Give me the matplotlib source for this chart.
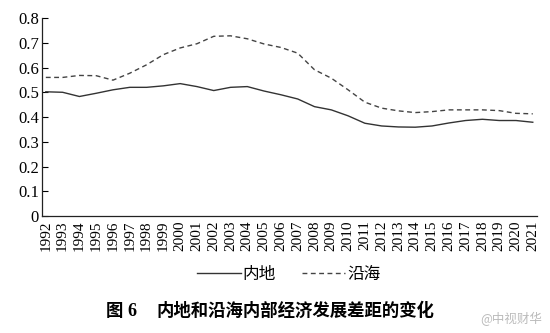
import numpy as np
import matplotlib.pyplot as plt

plt.rcParams['font.family'] = ['Liberation Serif', 'Noto Sans CJK SC']

years = list(range(1992, 2022))
inland = [0.502, 0.500, 0.483, 0.496, 0.510, 0.520, 0.520, 0.526, 0.535, 0.523,
          0.507, 0.520, 0.523, 0.505, 0.490, 0.473, 0.442, 0.429, 0.405, 0.375,
          0.364, 0.360, 0.359, 0.364, 0.376, 0.386, 0.391, 0.386, 0.386, 0.379]
coastal = [0.560, 0.560, 0.568, 0.567, 0.549, 0.577, 0.611, 0.652, 0.679, 0.696,
           0.726, 0.728, 0.716, 0.695, 0.681, 0.658, 0.591, 0.557, 0.510, 0.460,
           0.436, 0.425, 0.418, 0.422, 0.429, 0.429, 0.429, 0.426, 0.415, 0.413]
yticks = [0, 0.1, 0.2, 0.3, 0.4, 0.5, 0.6, 0.7, 0.8]
ytick_labels = ['0', '0.1', '0.2', '0.3', '0.4', '0.5', '0.6', '0.7', '0.8']

fig = plt.figure(figsize=(5.5, 3.33), dpi=100)
ax = fig.add_axes([0.076, 0.351, 0.900, 0.595])

x = np.arange(len(years))
ax.plot(x, inland, color='#333333', lw=1.0, label='内地')
ax.plot(x, coastal, color='#444444', lw=1.0, ls=(0, (3.5, 2.5)), label='沿海')

ax.set_xlim(-0.24, len(years) - 0.76)
ax.set_ylim(0, 0.8)
ax.set_yticks(yticks)
ax.set_yticklabels(ytick_labels, fontsize=12)
ax.set_xticks(x)
ax.set_xticklabels([str(y) for y in years], rotation=90, fontsize=11)
ax.tick_params(axis='y', direction='in', length=4, width=0.8, pad=2)
ax.tick_params(axis='x', length=0, pad=3)
for side in ['top', 'right']:
    ax.spines[side].set_visible(False)
for side in ['left', 'bottom']:
    ax.spines[side].set_linewidth(0.9)
    ax.spines[side].set_color('#222222')

fig.legend(loc='center', bbox_to_anchor=(0.525, 1 - 274 / 333), ncol=2,
           frameon=False, handlelength=2.6, handletextpad=0.1,
           columnspacing=1.6, prop={'family': ['Noto Sans CJK SC'], 'size': 12})

fig.text(0.193, 1 - 311 / 333, '图', fontsize=12.5, fontweight='bold',
         family=['Noto Sans CJK SC'], va='center', ha='left')
fig.text(0.232, 1 - 311 / 333, '6', fontsize=13, fontweight='bold',
         family=['Liberation Serif'], va='center', ha='left')
fig.text(0.285, 1 - 311 / 333, '内地和沿海内部经济发展差距的变化', fontsize=12.5,
         fontweight='bold', family=['Noto Sans CJK SC'], va='center', ha='left')
fig.text(0.985, 1 - 319 / 333, '@中视财华', fontsize=9, color='#bbbbbb',
         family=['Noto Sans CJK SC'], va='center', ha='right')

fig.savefig('out.png', dpi=100)
